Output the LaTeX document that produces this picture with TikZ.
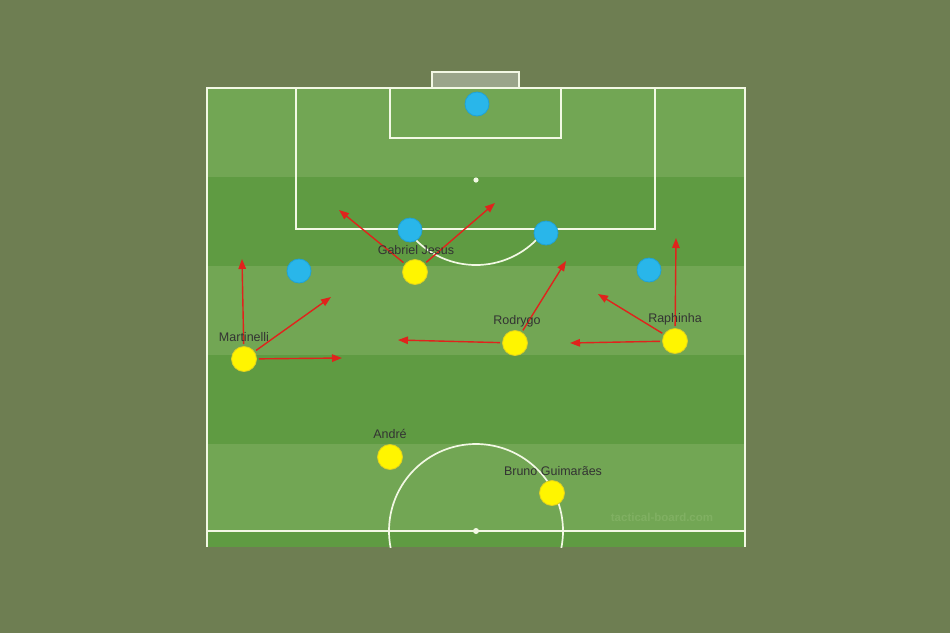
\documentclass[tikz,border=0pt]{standalone}
\usepackage{fontspec}
\setmainfont{Liberation Sans}
\usetikzlibrary{arrows.meta}
\definecolor{bg}{HTML}{6E7E52}
\definecolor{lightg}{HTML}{72A654}
\definecolor{darkg}{HTML}{5F9B42}
\definecolor{pline}{HTML}{F2F8E4}
\definecolor{goalc}{HTML}{9AA58A}
\definecolor{bluep}{HTML}{29B6EA}
\definecolor{bluee}{HTML}{1FA2D6}
\definecolor{yelp}{HTML}{FFF500}
\definecolor{yele}{HTML}{E0D020}
\definecolor{arr}{HTML}{E0231C}
\definecolor{wm}{HTML}{80B062}
\tikzset{
  pl/.style={draw=pline, line width=1.7pt},
  blue/.style={circle, fill=bluep, draw=bluee, line width=0.8pt, minimum size=24pt, inner sep=0pt},
  yel/.style={circle, fill=yelp, draw=yele, line width=0.8pt, minimum size=25pt, inner sep=0pt},
  lbl/.style={font=\fontsize{12.5}{14}\selectfont, text=black!80, inner sep=0pt},
  run/.style={draw=arr, line width=1.4pt, -{Triangle[length=10pt,width=7.5pt]}, shorten <=2pt}
}
\begin{document}
\begin{tikzpicture}[x=1pt,y=-1pt]
\fill[bg] (0,0) rectangle (950,633);
\useasboundingbox (0,0) rectangle (950,633);
% stripes
\fill[lightg] (207,88) rectangle (745,177);
\fill[darkg] (207,177) rectangle (745,266);
\fill[lightg] (207,266) rectangle (745,355);
\fill[darkg] (207,355) rectangle (745,444);
\fill[lightg] (207,444) rectangle (745,531);
\fill[darkg] (207,531) rectangle (745,547);
% goal
\draw[pl, fill=goalc] (432,88) -- (432,72) -- (519,72) -- (519,88);
% outline
\draw[pl] (207,547) -- (207,88) -- (745,88) -- (745,547);
\draw[pl] (207,531) -- (745,531);
% penalty area
\draw[pl] (296,88) -- (296,229) -- (655,229) -- (655,88);
\draw[pl] (390,88) -- (390,138) -- (561,138) -- (561,88);
\fill[pline] (476,180) circle (2.6pt);
\begin{scope}
\clip (207,229) rectangle (745,300);
\draw[pl] (476,180) circle (85pt);
\end{scope}
\begin{scope}
\clip (207,400) rectangle (745,547);
\draw[pl] (476,531) circle (87pt);
\end{scope}
\fill[pline] (476,531) circle (3pt);
% watermark
\node[font=\fontsize{11.5}{13}\selectfont\bfseries, text=wm] (wmk) at (662,517) {tactical-board.com};
% blue players
\node[blue] (b1) at (477,104) {};
\node[blue] (b2) at (410,230) {};
\node[blue] (b3) at (546,233) {};
\node[blue] (b4) at (299,271) {};
\node[blue] (b5) at (649,270) {};
% arrow targets
\coordinate (gj1) at (339,210);
\coordinate (gj2) at (495,203);
\coordinate (m1) at (242,259);
\coordinate (m2) at (331,297);
\coordinate (m3) at (342,358);
\coordinate (r1) at (398,340);
\coordinate (r2) at (566,261);
\coordinate (ra1) at (676,238);
\coordinate (ra2) at (598,294);
\coordinate (ra3) at (570,343);
% yellow players
\node[yel] (gj) at (415,272) {};
\node[yel] (mt) at (244,359) {};
\node[yel] (ro) at (515,343) {};
\node[yel] (ra) at (675,341) {};
\node[yel] (an) at (390,457) {};
\node[yel] (bg) at (552,493) {};
% runs
\draw[run] (gj) -- (gj1);
\draw[run] (gj) -- (gj2);
\draw[run] (mt) -- (m1);
\draw[run] (mt) -- (m2);
\draw[run] (mt) -- (m3);
\draw[run] (ro) -- (r1);
\draw[run] (ro) -- (r2);
\draw[run] (ra) -- (ra1);
\draw[run] (ra) -- (ra2);
\draw[run] (ra) -- (ra3);
% labels
\node[lbl] (lgj) at (416,250) {Gabriel Jesus};
\node[lbl] (lmt) at (244,337) {Martinelli};
\node[lbl] (lro) at (517,321) {Rodrygo};
\node[lbl] (lra) at (675,319) {Raphinha};
\node[lbl] (lan) at (390,434) {André};
\node[lbl] (lbg) at (553,471) {Bruno Guimarães};
\end{tikzpicture}
\end{document}
